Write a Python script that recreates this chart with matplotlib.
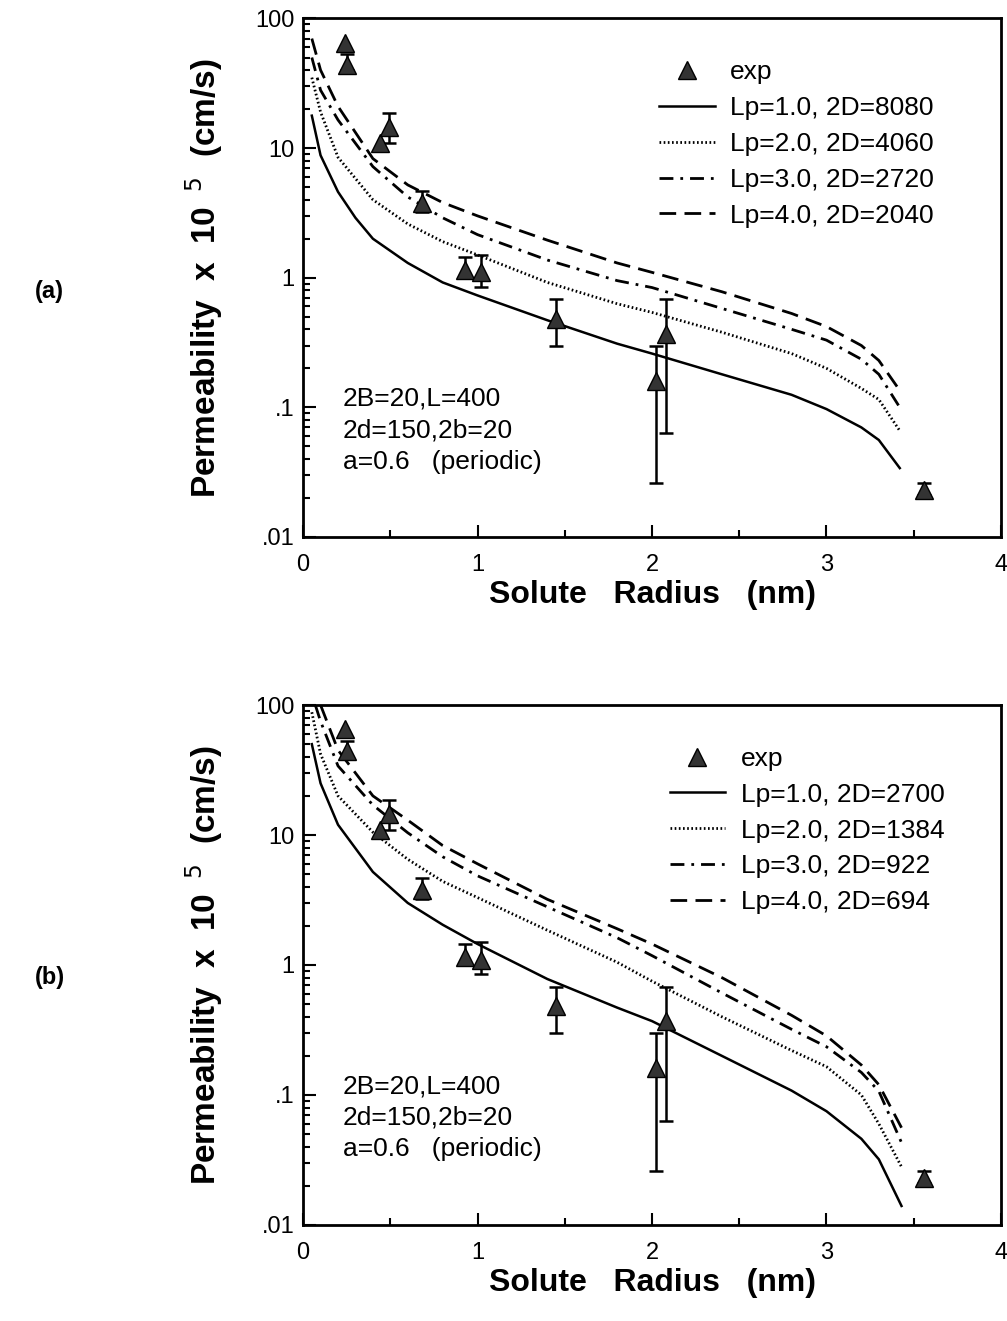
import matplotlib.pyplot as plt
from matplotlib.ticker import FixedLocator, FixedFormatter, LogLocator, MultipleLocator

plt.rcParams['font.family'] = ['Liberation Sans', 'DejaVu Sans']

# experimental points (same in both panels)
exp_x = [0.24, 0.25, 0.44, 0.49, 0.68, 0.93, 1.02, 1.45, 2.02, 2.08, 3.56]
exp_y = [65, 44, 11, 14.5, 3.8, 1.15, 1.1, 0.48, 0.16, 0.37, 0.023]
exp_lo = [65, 40, 11, 11, 3.2, 1.0, 0.85, 0.30, 0.026, 0.063, 0.021]
exp_hi = [65, 53, 11, 18.6, 4.7, 1.45, 1.5, 0.68, 0.30, 0.68, 0.026]

# panel (a) model curves
a_x1 = [0.05, 0.1, 0.2, 0.3, 0.4, 0.6, 0.8, 1.0, 1.4, 1.8, 2.0, 2.4, 2.8, 3.0, 3.2, 3.3, 3.42]
a_y1 = [17.8, 8.8, 4.6, 2.9, 2.0, 1.3, 0.92, 0.73, 0.47, 0.31, 0.26, 0.18, 0.125, 0.097, 0.07, 0.056, 0.034]
a_x = [0.05, 0.1, 0.2, 0.4, 0.6, 0.8, 1.0, 1.4, 1.8, 2.0, 2.4, 2.8, 3.0, 3.2, 3.3, 3.42]
a_y2 = [35, 19, 8.5, 4.0, 2.6, 1.9, 1.5, 0.92, 0.63, 0.54, 0.38, 0.26, 0.2, 0.14, 0.115, 0.066]
a_y3 = [50, 28, 16.5, 7.2, 4.2, 2.9, 2.15, 1.37, 0.95, 0.84, 0.58, 0.40, 0.33, 0.235, 0.18, 0.1]
a_y4 = [70, 40, 21, 8.3, 5.2, 3.8, 3.0, 1.95, 1.3, 1.1, 0.78, 0.53, 0.42, 0.30, 0.23, 0.135]
a_labels = ['Lp=1.0, 2D=8080', 'Lp=2.0, 2D=4060', 'Lp=3.0, 2D=2720', 'Lp=4.0, 2D=2040']

# panel (b) model curves
b_x = [0.05, 0.1, 0.2, 0.4, 0.6, 0.8, 1.0, 1.4, 1.8, 2.0, 2.4, 2.8, 3.0, 3.2, 3.3, 3.43]
b_y1 = [50, 25, 12, 5.2, 3.0, 2.04, 1.45, 0.78, 0.47, 0.37, 0.2, 0.108, 0.075, 0.046, 0.032, 0.014]
b_y2 = [88, 42, 20, 10.5, 6.5, 4.4, 3.3, 1.85, 1.05, 0.75, 0.4, 0.22, 0.165, 0.1, 0.06, 0.028]
b_x3 = [0.07, 0.1, 0.2, 0.4, 0.6, 0.8, 1.0, 1.4, 1.8, 2.0, 2.4, 2.8, 3.0, 3.2, 3.3, 3.43]
b_y3 = [100, 75, 34, 17, 10.4, 6.8, 4.85, 2.8, 1.62, 1.18, 0.61, 0.32, 0.235, 0.149, 0.107, 0.043]
b_x4 = [0.1, 0.2, 0.4, 0.6, 0.8, 1.0, 1.4, 1.8, 2.0, 2.4, 2.8, 3.0, 3.2, 3.3, 3.43]
b_y4 = [100, 45, 20, 13, 8.3, 6.0, 3.2, 1.9, 1.45, 0.8, 0.41, 0.285, 0.17, 0.12, 0.056]
b_labels = ['Lp=1.0, 2D=2700', 'Lp=2.0, 2D=1384', 'Lp=3.0, 2D=922', 'Lp=4.0, 2D=694']

params_text = '2B=20,L=400\n2d=150,2b=20\na=0.6   (periodic)'

styles = [
    dict(linestyle='-', lw=1.8),
    dict(linestyle=(0, (0.6, 0.9)), lw=2.0),
    dict(linestyle=(0, (5, 2.5, 1, 2.5)), lw=2.0),
    dict(linestyle=(0, (6, 3)), lw=2.0),
]


def draw_panel(ax, curves, labels, leg_anchor):
    # markers, then error bars only where the spread is visible
    pts, = ax.plot(exp_x, exp_y, '^', ms=13, mfc='0.2', mec='black', label='exp', zorder=4)
    idx = [i for i in range(len(exp_x)) if exp_hi[i] > exp_lo[i]]
    ex = [exp_x[i] for i in idx]
    ey = [exp_y[i] for i in idx]
    yerr = [[exp_y[i] - exp_lo[i] for i in idx], [exp_hi[i] - exp_y[i] for i in idx]]
    ax.errorbar(ex, ey, yerr=yerr, fmt='none', ecolor='black', elinewidth=1.8,
                capsize=5, capthick=1.8, zorder=3)
    handles = [pts]
    for (cx, cy), lab, st in zip(curves, labels, styles):
        ln, = ax.plot(cx, cy, color='black', label=lab, **st)
        handles.append(ln)

    ax.set_yscale('log')
    ax.set_xlim(0, 4)
    ax.set_ylim(0.01, 100)
    ax.yaxis.set_major_locator(FixedLocator([0.01, 0.1, 1, 10, 100]))
    ax.yaxis.set_major_formatter(FixedFormatter(['.01', '.1', '1', '10', '100']))
    ax.yaxis.set_minor_locator(LogLocator(base=10, subs=range(2, 10)))
    ax.xaxis.set_major_locator(MultipleLocator(1))
    ax.xaxis.set_minor_locator(MultipleLocator(0.5))
    ax.tick_params(which='both', direction='in', labelsize=17, width=1.5)
    ax.tick_params(which='major', length=9)
    ax.tick_params(which='minor', length=5)
    ax.tick_params(axis='x', pad=12)
    ax.tick_params(axis='y', pad=6)
    for sp in ax.spines.values():
        sp.set_linewidth(2)

    ax.set_xlabel('Solute   Radius   (nm)', fontsize=23, fontweight='bold', labelpad=3)
    ax.set_ylabel('Permeability  x  10$^{\\ \\ 5}$  (cm/s)', fontsize=24,
                  fontweight='bold', labelpad=22)
    ax.text(0.057, 0.29, params_text, transform=ax.transAxes, fontsize=19,
            va='top', ha='left', linespacing=1.4)

    ax.legend(handles=handles, loc='upper left', bbox_to_anchor=leg_anchor,
              frameon=False, fontsize=19, handlelength=2.1, handletextpad=0.6,
              labelspacing=0.45, borderaxespad=0)


fig = plt.figure(figsize=(10.07, 13.21), dpi=100)
ax_a = fig.add_axes([0.301, 0.5935, 0.693, 0.3925])
ax_b = fig.add_axes([0.301, 0.0727, 0.693, 0.3936])

draw_panel(ax_a, [(a_x1, a_y1), (a_x, a_y2), (a_x, a_y3), (a_x, a_y4)], a_labels, (0.495, 0.94))
draw_panel(ax_b, [(b_x, b_y1), (b_x, b_y2), (b_x3, b_y3), (b_x4, b_y4)], b_labels, (0.51, 0.94))

fig.text(0.035, 0.779, '(a)', fontsize=17, fontweight='bold', va='center')
fig.text(0.035, 0.260, '(b)', fontsize=17, fontweight='bold', va='center')

fig.savefig('out.png', dpi=100)
